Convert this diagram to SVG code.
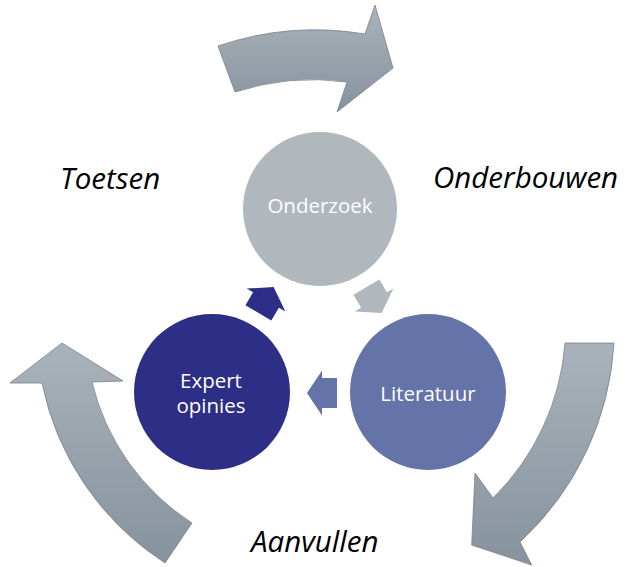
<svg xmlns="http://www.w3.org/2000/svg" width="628" height="567" viewBox="0 0 628 567">
<defs>
<linearGradient id="g" x1="0" y1="0" x2="0" y2="1">
<stop offset="0" stop-color="#A9B3BB"/>
<stop offset="1" stop-color="#86929D"/>
</linearGradient>
<path id="sa" d="M -15,-15 H 0 V -22.5 L 15,0 L 0,22.5 V 15 H -15 Z"/>
</defs>
<style>
.big{fill:url(#g);stroke:#77828C;stroke-width:0.8}
.lbl{font-family:"Open Sans","Liberation Sans",sans-serif;font-style:italic;font-size:29.5px;fill:#000}
.cl{font-family:"Open Sans","Liberation Sans",sans-serif;font-size:20.5px;fill:#fff;text-anchor:middle}
</style>
<rect width="628" height="567" fill="#fff"/>
<g id="connectors">
<path class="big" d="M 218,46 A 302 302 0 0 1 365,34 L 375,5 L 393,68 L 337,112 L 347,82 A 252 252 0 0 0 235,92 Z"/>
<path class="big" d="M 614,343 A 294 294 0 0 1 520,542 L 531.7,565 L 471.7,545 L 475,473 L 493,498 A 243 243 0 0 0 565,343 Z"/>
<path class="big" d="M 165,563 A 281 281 0 0 1 42,383 L 10,383 L 62,343 L 123,381 L 92,382 A 232 232 0 0 0 192,523 Z"/>
<use href="#sa" fill="#B0B7BD" transform="translate(374,300) rotate(59.4)"/>
<use href="#sa" fill="#6474A9" transform="translate(322,393) rotate(180)"/>
<use href="#sa" fill="#2D2E86" transform="translate(266,300) rotate(-59.4)"/>
</g>
<g id="onderzoek">
<circle cx="320" cy="209" r="77" fill="#B0B7BD"/>
<text class="cl" x="320" y="213">Onderzoek</text>
</g>
<g id="literatuur">
<circle cx="428" cy="392" r="78" fill="#6474A9"/>
<text class="cl" x="428" y="401">Literatuur</text>
</g>
<g id="expert">
<circle cx="212" cy="392" r="78" fill="#2D2E86"/>
<text class="cl"><tspan x="211" y="388">Expert</tspan><tspan x="211" y="413">opinies</tspan></text>
</g>
<g id="labels">
<text class="lbl" x="60" y="189">Toetsen</text>
<text class="lbl" x="433" y="188">Onderbouwen</text>
<text class="lbl" x="251" y="552">Aanvullen</text>
</g>
</svg>
